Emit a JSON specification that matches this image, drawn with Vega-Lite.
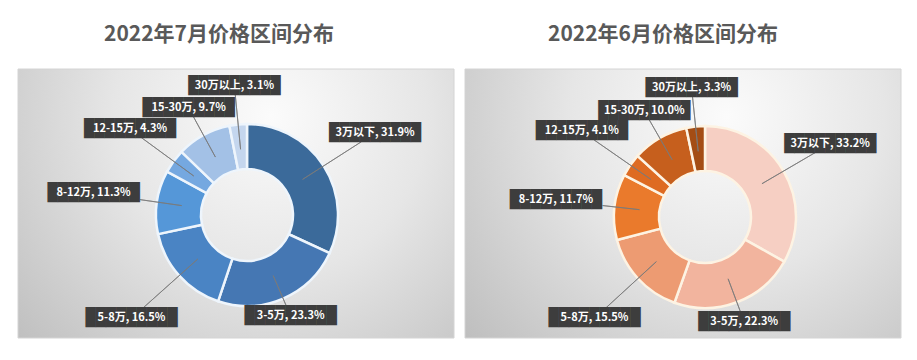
{
  "$schema": "https://vega.github.io/schema/vega-lite/v6.json",
  "background": "white",
  "padding": {"left": 17, "right": 5, "top": 23, "bottom": 5},
  "spacing": 9,
  "config": {"view": {"stroke": null}},
  "datasets": {
    "jul": [
      {"range": "3万以下", "pct": 31.9, "rank": 1, "label": "3万以下, 31.9%"},
      {"range": "3-5万", "pct": 23.3, "rank": 2, "label": "3-5万, 23.3%"},
      {"range": "5-8万", "pct": 16.5, "rank": 3, "label": "5-8万, 16.5%"},
      {"range": "8-12万", "pct": 11.3, "rank": 4, "label": "8-12万, 11.3%"},
      {"range": "12-15万", "pct": 4.3, "rank": 5, "label": "12-15万, 4.3%"},
      {"range": "15-30万", "pct": 9.7, "rank": 6, "label": "15-30万, 9.7%"},
      {"range": "30万以上", "pct": 3.1, "rank": 7, "label": "30万以上, 3.1%"}
    ],
    "jun": [
      {"range": "3万以下", "pct": 33.2, "rank": 1, "label": "3万以下, 33.2%"},
      {"range": "3-5万", "pct": 22.3, "rank": 2, "label": "3-5万, 22.3%"},
      {"range": "5-8万", "pct": 15.5, "rank": 3, "label": "5-8万, 15.5%"},
      {"range": "8-12万", "pct": 11.7, "rank": 4, "label": "8-12万, 11.7%"},
      {"range": "12-15万", "pct": 4.1, "rank": 5, "label": "12-15万, 4.1%"},
      {"range": "15-30万", "pct": 10.0, "rank": 6, "label": "15-30万, 10.0%"},
      {"range": "30万以上", "pct": 3.3, "rank": 7, "label": "30万以上, 3.3%"}
    ]
  },
  "hconcat": [
    {
      "width": 436,
      "height": 269,
      "title": {"text": "2022年7月价格区间分布", "font": "Noto Sans CJK SC", "fontSize": 21, "fontWeight": "bold", "color": "#595959", "offset": 24, "dx": -17, "frame": "group"},
      "data": {"name": "jul"},
      "layer": [
        {
          "data": {"values": [{}]},
          "mark": {"type": "rect", "color": {"gradient": "radial", "x1": 0.58, "y1": 0.3, "r1": 0, "x2": 0.58, "y2": 0.3, "r2": 0.8, "stops": [{"offset": 0, "color": "#fbfbfb"}, {"offset": 0.45, "color": "#e6e6e6"}, {"offset": 1, "color": "#bdbdbd"}]}, "stroke": "#d4d4d4", "strokeWidth": 1},
          "encoding": {}
        },
        {
          "mark": {"type": "arc", "radius": 91, "radius2": 46, "stroke": "#eef5fc", "strokeWidth": 2.5, "xOffset": 11, "yOffset": 11.5},
          "encoding": {
            "theta": {"field": "pct", "type": "quantitative", "stack": true},
            "order": {"field": "rank", "type": "quantitative"},
            "color": {"field": "range", "type": "nominal", "legend": null, "scale": {"domain": ["3万以下", "3-5万", "5-8万", "8-12万", "12-15万", "15-30万", "30万以上"], "range": ["#3b6a9a", "#4577b3", "#4a84c4", "#5597d8", "#75a8e0", "#a3c1e6", "#c4d6ee"]}}
          }
        },
        {
          "mark": {"type": "arc", "radius2": 66, "padAngle": 3.14, "fill": "transparent", "stroke": "#7a7a7a", "strokeWidth": 0.8, "xOffset": 11, "yOffset": 11.5},
          "encoding": {
            "theta": {"field": "pct", "type": "quantitative", "stack": true},
            "order": {"field": "rank", "type": "quantitative"},
            "detail": {"field": "range", "type": "nominal"},
            "radius": {"field": "pct", "type": "quantitative", "scale": {"type": "linear", "zero": false, "nice": false, "domain": [3.1, 4.3, 9.7, 11.3, 16.5, 23.3, 31.9], "range": [121, 131, 112, 108, 142, 101, 136]}}
          }
        },
        {
          "mark": {"type": "text", "text": "█████████", "font": "DejaVu Sans Mono", "fontSize": 17, "color": "#3d3d3d", "align": "center", "baseline": "middle", "xOffset": 11, "yOffset": 11.5},
          "encoding": {
            "theta": {"field": "pct", "type": "quantitative", "stack": true},
            "order": {"field": "rank", "type": "quantitative"},
            "detail": {"field": "range", "type": "nominal"},
            "radius": {"field": "pct", "type": "quantitative", "scale": {"type": "linear", "zero": false, "nice": false, "domain": [3.1, 4.3, 9.7, 11.3, 16.5, 23.3, 31.9], "range": [130, 145, 122, 155, 155, 110, 152]}}
          }
        },
        {
          "mark": {"type": "text", "font": "Noto Sans CJK SC", "fontSize": 11, "fontWeight": "bold", "color": "white", "align": "center", "baseline": "middle", "xOffset": 11, "yOffset": 11.5},
          "encoding": {
            "theta": {"field": "pct", "type": "quantitative", "stack": true},
            "order": {"field": "rank", "type": "quantitative"},
            "detail": {"field": "range", "type": "nominal"},
            "radius": {"field": "pct", "type": "quantitative", "scale": {"type": "linear", "zero": false, "nice": false, "domain": [3.1, 4.3, 9.7, 11.3, 16.5, 23.3, 31.9], "range": [130, 145, 122, 155, 155, 110, 152]}},
            "text": {"field": "label", "type": "nominal"}
          }
        }
      ],
      "resolve": {"scale": {"radius": "independent"}}
    },
    {
      "width": 436,
      "height": 269,
      "title": {"text": "2022年6月价格区间分布", "font": "Noto Sans CJK SC", "fontSize": 21, "fontWeight": "bold", "color": "#595959", "offset": 24, "dx": -20, "frame": "group"},
      "data": {"name": "jun"},
      "layer": [
        {
          "data": {"values": [{}]},
          "mark": {"type": "rect", "color": {"gradient": "radial", "x1": 0.6, "y1": 0.3, "r1": 0, "x2": 0.6, "y2": 0.3, "r2": 0.8, "stops": [{"offset": 0, "color": "#fbfbfb"}, {"offset": 0.45, "color": "#e6e6e6"}, {"offset": 1, "color": "#bdbdbd"}]}, "stroke": "#d4d4d4", "strokeWidth": 1},
          "encoding": {}
        },
        {
          "mark": {"type": "arc", "radius": 91, "radius2": 46, "stroke": "#fdf3e3", "strokeWidth": 2.5, "xOffset": 22, "yOffset": 13.5},
          "encoding": {
            "theta": {"field": "pct", "type": "quantitative", "stack": true},
            "order": {"field": "rank", "type": "quantitative"},
            "color": {"field": "range", "type": "nominal", "legend": null, "scale": {"domain": ["3万以下", "3-5万", "5-8万", "8-12万", "12-15万", "15-30万", "30万以上"], "range": ["#f6cfc3", "#f2b49e", "#ed9b72", "#ea7a2c", "#de6b22", "#c65f1d", "#a44d14"]}}
          }
        },
        {
          "mark": {"type": "arc", "radius2": 66, "padAngle": 3.14, "fill": "transparent", "stroke": "#7a7a7a", "strokeWidth": 0.8, "xOffset": 22, "yOffset": 13.5},
          "encoding": {
            "theta": {"field": "pct", "type": "quantitative", "stack": true},
            "order": {"field": "rank", "type": "quantitative"},
            "detail": {"field": "range", "type": "nominal"},
            "radius": {"field": "pct", "type": "quantitative", "scale": {"type": "linear", "zero": false, "nice": false, "domain": [3.3, 4.1, 10.0, 11.7, 15.5, 22.3, 33.2], "range": [121, 135, 112, 103, 137, 103, 128]}}
          }
        },
        {
          "mark": {"type": "text", "text": "█████████", "font": "DejaVu Sans Mono", "fontSize": 17, "color": "#3d3d3d", "align": "center", "baseline": "middle", "xOffset": 22, "yOffset": 13.5},
          "encoding": {
            "theta": {"field": "pct", "type": "quantitative", "stack": true},
            "order": {"field": "rank", "type": "quantitative"},
            "detail": {"field": "range", "type": "nominal"},
            "radius": {"field": "pct", "type": "quantitative", "scale": {"type": "linear", "zero": false, "nice": false, "domain": [3.3, 4.1, 10.0, 11.7, 15.5, 22.3, 33.2], "range": [130, 150, 122, 150, 150, 112, 145]}}
          }
        },
        {
          "mark": {"type": "text", "font": "Noto Sans CJK SC", "fontSize": 11, "fontWeight": "bold", "color": "white", "align": "center", "baseline": "middle", "xOffset": 22, "yOffset": 13.5},
          "encoding": {
            "theta": {"field": "pct", "type": "quantitative", "stack": true},
            "order": {"field": "rank", "type": "quantitative"},
            "detail": {"field": "range", "type": "nominal"},
            "radius": {"field": "pct", "type": "quantitative", "scale": {"type": "linear", "zero": false, "nice": false, "domain": [3.3, 4.1, 10.0, 11.7, 15.5, 22.3, 33.2], "range": [130, 150, 122, 150, 150, 112, 145]}},
            "text": {"field": "label", "type": "nominal"}
          }
        }
      ],
      "resolve": {"scale": {"radius": "independent"}}
    }
  ],
  "resolve": {"scale": {"color": "independent", "theta": "independent", "radius": "independent"}}
}
